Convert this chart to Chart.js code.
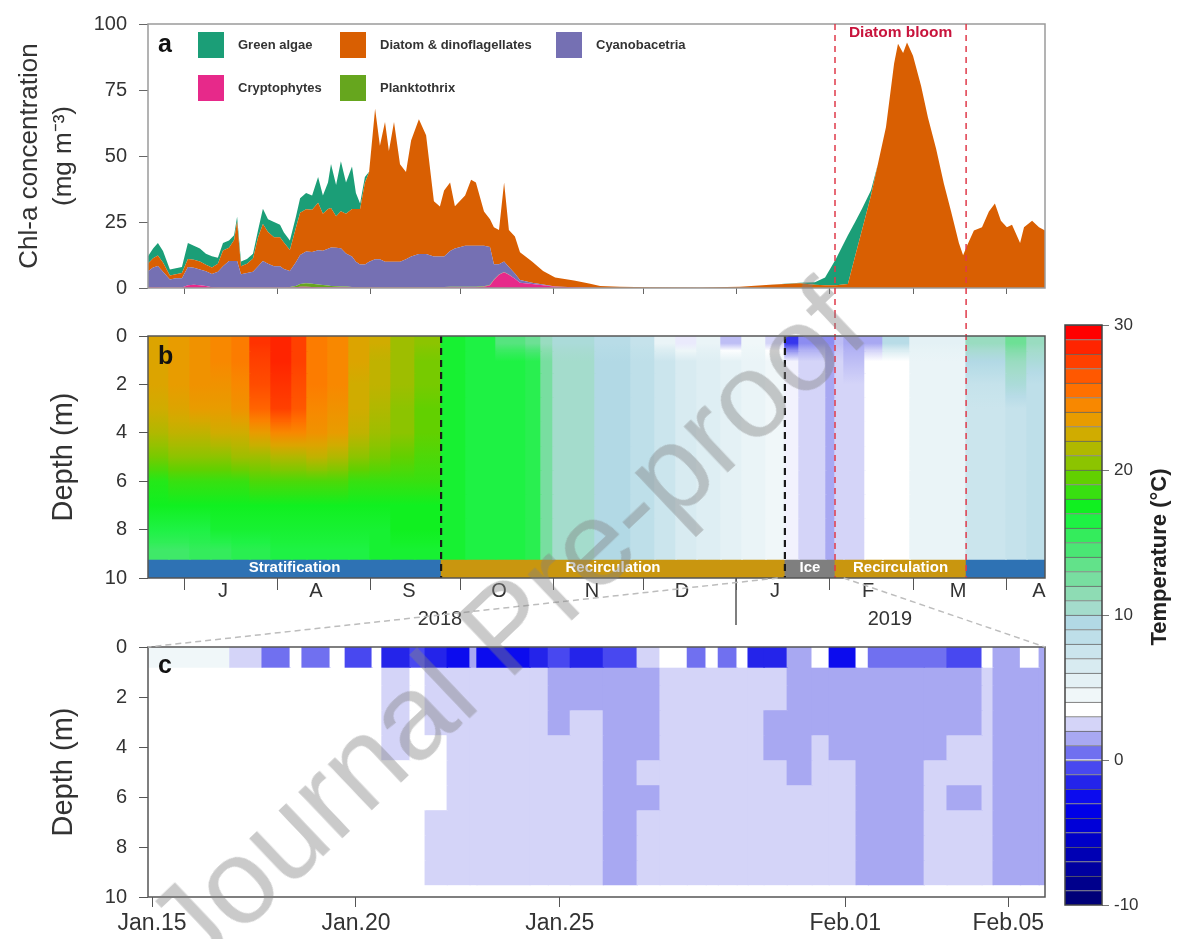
<!DOCTYPE html>
<html>
<head>
<meta charset="utf-8">
<title>Chl-a and water temperature</title>
<script src="https://cdn.jsdelivr.net/npm/chart.js@4.4.1/dist/chart.umd.min.js"></script>
<style>
  html, body { margin: 0; padding: 0; background: #fff; }
  #wrap { position: relative; width: 1180px; height: 939px; overflow: hidden; }
  #wrap canvas { position: absolute; }
  #watermark {
    position: absolute; left: 505px; top: 626px;
    transform: translate(-50%, -50%) rotate(-43.5deg);
    font: 121px Arial, "Liberation Sans", sans-serif;
    color: rgba(128, 128, 128, 0.42); white-space: nowrap; pointer-events: none;
  }
</style>
</head>
<body>
<div id="wrap">
  <canvas id="chlChart" width="1060" height="312" style="left:0;top:0"></canvas>
  <canvas id="tempChart" width="1060" height="318" style="left:0;top:312px"></canvas>
  <canvas id="iceChart" width="1060" height="364" style="left:0;top:575px"></canvas>
  <canvas id="scaleChart" width="140" height="630" style="left:1040px;top:300px"></canvas>
  <div id="watermark">Journal Pre-proof</div>
</div>
<script>
// ---- panel a: chl-a per algal group (mg m-3) ----
// x = day of year counted from 1 Jan 2018 (2019 keeps counting past 365)
const aDays = [
  169, 170.7, 172.3, 174, 176.3, 178.3, 180.3, 182.3, 184.3, 186.3,
  188.3, 190.3, 192.3, 194, 196, 197.7, 198.7, 200, 202, 204,
  205.7, 207.3, 209, 211, 213, 214.3, 216.3, 218.3, 219.7, 221.7,
  223.7, 225.7, 227.3, 229, 230, 231.7, 233.3, 235, 237, 238.3,
  239.7, 241.3, 242.7, 244.7, 246.3, 248, 249.3, 251, 253, 255,
  256.7, 259.3, 261.7, 264.3, 266.3, 267.7, 269.7, 271.3, 274.7, 276.7,
  278.3, 281, 283, 284.3, 286, 287.7, 289.3, 291.3, 293, 297,
  300.7, 304.7, 311, 316, 319.7, 326.3, 336.3, 353, 366.3, 376.3,
  386.3, 391.3, 394.7, 398.3, 402.3, 404.7, 407, 410, 412.3, 415,
  417.7, 419, 420.7, 422, 424, 426.7, 429, 431.7, 434.3, 436.7,
  439.3, 440.7, 442, 444.3, 447, 449.3, 451.3, 453.3, 455.3, 457,
  459.7, 461, 463.7, 466, 468
];
const cryptophytes = [
  0.3, 0.3, 0.3, 0.2, 0.2, 0.2, 0.2, 1, 1.2, 1,
  0.8, 0.3, 0.2, 0.2, 0.2, 0.2, 0.2, 0.2, 0.2, 0.2,
  0.2, 0.2, 0.2, 0.2, 0.2, 0.2, 0.2, 0.3, 0.5, 0.5,
  0.4, 0.3, 0.3, 0.3, 0.3, 0.3, 0.3, 0.3, 0.2, 0.2,
  0.2, 0.2, 0.2, 0.2, 0.2, 0.2, 0.2, 0.2, 0.2, 0.2,
  0.2, 0.2, 0.2, 0.2, 0.2, 0.2, 0.3, 0.3, 0.3, 0.3,
  0.3, 0.5, 1, 3, 5, 6, 5, 3.5, 2, 1.5,
  1, 0.5, 0.3, 0.1, 0, 0, 0, 0, 0, 0,
  0, 0, 0, 0, 0, 0, 0, 0, 0, 0,
  0, 0, 0, 0, 0, 0, 0, 0, 0, 0,
  0, 0, 0, 0, 0, 0, 0, 0, 0, 0,
  0, 0, 0, 0, 0
];
const planktothrix = [
  0, 0, 0, 0, 0, 0, 0, 0, 0, 0,
  0, 0, 0, 0, 0, 0, 0, 0, 0, 0,
  0, 0, 0, 0, 0, 0, 0.2, 0.5, 1, 1.3,
  1.2, 1, 0.8, 0.6, 0.5, 0.4, 0.3, 0.3, 0.2, 0.2,
  0.2, 0.2, 0.2, 0.2, 0.2, 0.2, 0.2, 0.2, 0.2, 0.2,
  0.2, 0.2, 0.2, 0.2, 0.2, 0.2, 0.2, 0.2, 0.2, 0.2,
  0.2, 0.2, 0.2, 0.2, 0.1, 0.1, 0.1, 0, 0, 0,
  0, 0, 0, 0, 0, 0, 0, 0, 0, 0,
  0, 0, 0, 0, 0, 0, 0, 0, 0, 0,
  0, 0, 0, 0, 0, 0, 0, 0, 0, 0,
  0, 0, 0, 0, 0, 0, 0, 0, 0, 0,
  0, 0, 0, 0, 0
];
const cyanobacteria = [
  6, 7.5, 8, 6, 3, 3.5, 3.5, 7, 6.5, 6,
  5.5, 5, 6, 8, 10, 10, 10, 5, 5.5, 6,
  8, 10, 9, 8, 8, 7, 6, 9, 11, 12,
  12, 13, 13, 14, 14.5, 14.5, 14.5, 12.5, 11.5, 9.5,
  8.5, 8.5, 9.5, 10.5, 10.5, 9.5, 9.5, 9.5, 9.5, 10.5,
  11.5, 12.5, 12.5, 11.5, 11.5, 11.5, 13.5, 14.5, 15.5, 15.5,
  15.5, 15.3, 14.3, 5.8, 3.9, 3.9, 2.9, 2, 1, 0.5,
  0.3, 0.1, 0, 0, 0, 0, 0, 0, 0, 0,
  0, 0, 0, 0, 0, 0, 0, 0, 0, 0,
  0, 0, 0, 0, 0, 0, 0, 0, 0, 0,
  0, 0, 0, 0, 0, 0, 0, 0, 0, 0,
  0, 0, 0, 0, 0
];
const diatoms = [
  3, 3.5, 4, 3.5, 1.5, 1.5, 2, 3, 3, 3,
  2.5, 2.5, 3, 6, 5, 8, 15, 3, 3.5, 5,
  11, 14, 12, 11, 11, 10, 8, 13, 16, 16,
  16, 18, 14, 15, 15, 12, 14, 15, 18, 20,
  21, 31, 34, 57, 43, 53, 42, 53, 37, 33,
  44, 51, 45, 21, 19, 25, 26, 16, 19, 25,
  24, 13, 10.5, 14, 13, 30, 14, 14, 10.5, 8,
  5.1, 3.4, 2.5, 1.6, 0.8, 0.5, 0.3, 0.2, 0.5, 1.2,
  1.8, 1.2, 1, 1, 1.5, 12, 22, 35, 47, 61,
  85, 92.5, 89, 93, 88, 76.5, 64.5, 52.7, 39.5, 29,
  17, 12.4, 16, 21.8, 23, 29, 32, 25.5, 23, 24,
  17, 23, 25.5, 23, 21.8
];
const greenAlgae = [
  2.7, 3.7, 4.7, 4.3, 2.3, 2.3, 2.3, 6, 5.3, 5,
  4.2, 4.2, 2.3, 2.8, 2.8, 1.8, 1.8, 1.8, 1.8, 1.8,
  2.8, 5.8, 4.8, 5.8, 4.8, 3.8, 3.6, 4.2, 5.5, 6.2,
  5.4, 9.7, 6.9, 10.1, 16.7, 11.8, 18.9, 11.9, 16.1, 6.1,
  2.1, 2.1, 0.1, 0, 0, 0, 0, 0, 0, 0,
  0, 0, 0, 0, 0, 0, 0, 0, 0, 0,
  0, 0, 0, 0, 0, 0, 0, 0, 0, 0,
  0, 0, 0, 0, 0, 0, 0, 0, 0, 0,
  0.2, 1, 3, 10, 18.5, 13, 8, 2, 0, 0,
  0, 0, 0, 0, 0, 0, 0, 0, 0, 0,
  0, 0, 0, 0, 0, 0, 0, 0, 0, 0,
  0, 0, 0, 0, 0
];

// ---- panel b: water temperature (deg C), columns between bEdges, rows = depth layers ----
const bLayerTop    = [0, 0.6, 1.5, 2.5, 3.5, 4.5, 5.5, 6.5, 7.5, 8.5];
const bLayerBottom = [0.6, 1.5, 2.5, 3.5, 4.5, 5.5, 6.5, 7.5, 8.5, 9.2];
const bEdges = [
  169, 176, 183, 190, 197, 203, 210, 217, 222, 229,
  236, 243, 250, 258, 266.7, 275, 285, 295, 300, 304,
  318, 330, 338, 345, 352, 360, 367, 375, 381.3, 386,
  395, 398, 401, 408, 414, 423, 441.7, 455, 462, 468
];
const bTemps = [
  [23, 23, 23, 22.5, 21.5, 20, 18, 17.5, 16.5, 15],
  [23.5, 23.5, 23.5, 23, 22, 20.5, 18.5, 17.5, 16.5, 15],
  [24, 24, 24, 23.5, 22, 20.5, 18.5, 17.5, 16.5, 15.5],
  [24.5, 24.5, 24, 23.5, 22.5, 20.5, 18.5, 17.5, 17, 15.5],
  [25, 25, 24.5, 24, 22.5, 21, 18.5, 17.5, 17, 16],
  [28, 27.5, 27, 26, 23.5, 21, 19, 17.5, 17, 16],
  [28.5, 28.5, 28, 27.5, 24.5, 21.5, 19, 17.5, 17, 16.5],
  [27.5, 27.5, 27, 26.5, 24.5, 21.5, 19, 17.5, 17, 16.5],
  [25, 25, 25, 24.5, 24, 22, 19, 17.5, 17, 16.5],
  [24.5, 24.5, 24.5, 24, 23.5, 21.5, 19, 17.5, 17, 16.5],
  [23, 23, 22.5, 22.5, 22, 20.5, 18.5, 17.5, 17, 16.5],
  [22.5, 22, 22, 21.5, 21, 20, 18.5, 17.5, 17, 17],
  [21, 21, 21, 20.5, 20.5, 19.5, 18.5, 17.5, 17.5, 17],
  [20.5, 20, 20, 19.5, 19.5, 19, 18.5, 17.5, 17.5, 17],
  [17, 17, 17, 17, 17, 17, 17, 17, 17, 17],
  [16.5, 16.5, 16.5, 16.5, 16.5, 16.5, 16.5, 16.5, 16.5, 16.5],
  [14, 16.5, 16.5, 16.5, 16.5, 16.5, 16.5, 16.5, 16.5, 16.5],
  [13, 16, 16, 16, 16, 16, 16, 16, 16, 16],
  [11, 12.5, 12.5, 12.5, 12.5, 12.5, 12.5, 12.5, 12.5, 12.5],
  [10, 10.5, 10.5, 10.5, 10.5, 10.5, 10.5, 10.5, 10.5, 10.5],
  [9, 9.5, 9.5, 9.5, 9.5, 9.5, 9.5, 9.5, 9.5, 9.5],
  [8, 8.5, 8.5, 8.5, 8.5, 8.5, 8.5, 8.5, 8.5, 8.5],
  [5, 7.5, 7.5, 7.5, 7.5, 7.5, 7.5, 7.5, 7.5, 7.5],
  [3, 6.5, 6.5, 6.5, 6.5, 6.5, 6.5, 6.5, 6.5, 6.5],
  [5, 6, 6, 6, 6, 6, 6, 6, 6, 6],
  [2, 5.5, 5.5, 5.5, 5.5, 5.5, 5.5, 5.5, 5.5, 5.5],
  [4.5, 5, 5, 5, 5, 5, 5, 5, 5, 5],
  [2.5, 4.5, 4.5, 4.5, 4.5, 4.5, 4.5, 4.5, 4.5, 4.5],
  [-1, 3.2, 3.2, 3.2, 3.2, 3.2, 3.2, 3.2, 3.2, 3.2],
  [1, 2.5, 2.5, 2.5, 2.5, 2.5, 2.5, 2.5, 2.5, 2.5],
  [1, 1.5, 1.5, 1.5, 1.5, 1.5, 1.5, 1.5, 1.5, 1.5],
  [2, 2.5, 2.5, 2.5, 2.5, 2.5, 2.5, 2.5, 2.5, 2.5],
  [1.5, 2, 2.5, 2.5, 2.5, 2.5, 2.5, 2.5, 2.5, 2.5],
  [1.5, 3.5, 3.5, 3.5, 3.5, 3.5, 3.5, 3.5, 3.5, 3.5],
  [9, 3.5, 3.5, 3.5, 3.5, 3.5, 3.5, 3.5, 3.5, 3.5],
  [5.5, 5, 5, 5, 5, 5, 5, 5, 5, 5],
  [11, 9.5, 8, 7.5, 7.5, 7.5, 7.5, 7.5, 7.5, 7.5],
  [13, 11, 10, 8, 8, 8, 8, 8, 8, 8],
  [11, 10, 8.5, 8.5, 8.5, 8.5, 8.5, 8.5, 8.5, 8.5]
];
const phaseNames  = ['Stratification', 'Recirculation', 'Ice', 'Recirculation', ''];
const phaseEdges  = [169, 266.7, 381.3, 398, 441.7, 468];
const phaseColors = ['#2e72b4', '#c9960f', '#7f7f7f', '#c9960f', '#2e72b4'];

// ---- panel c: ice period, x = days since 15 Jan 2019 ----
const cLayerTop    = [0, 0.8, 1.5, 2.5, 3.5, 4.5, 5.5, 6.5, 7.5, 8.5];
const cLayerBottom = [0.8, 1.5, 2.5, 3.5, 4.5, 5.5, 6.5, 7.5, 8.5, 9.5];
const cEdges = [
  -0.1, 1.91, 2.70, 3.39, 3.68, 4.37, 4.74, 5.40, 5.64, 6.33,
  6.70, 7.24, 7.80, 7.97, 9.27, 9.72, 10.26, 11.07, 11.90, 12.46,
  13.13, 13.59, 13.89, 14.35, 14.62, 15.01, 15.58, 16.19, 16.61, 17.27,
  17.57, 18.94, 19.50, 20.36, 20.63, 21.30, 21.76, 21.9
];
const cTemps = [
  [4.5, 3.5, 3.5, 3.5, 3.5, 3.5, 3.5, 3.5, 3.5, 3.5],
  [2, 3.5, 3.5, 3.5, 3.5, 3.5, 3.5, 3.5, 3.5, 3.5],
  [0.5, 3.5, 3.5, 3.5, 3.5, 3.5, 3.5, 3.5, 3.5, 3.5],
  [3.5, 3.5, 3.5, 3.5, 3.5, 3.5, 3.5, 3.5, 3.5, 3.5],
  [0, 3.5, 3.5, 3.5, 3.5, 3.5, 3.5, 3.5, 3.5, 3.5],
  [3, 3.5, 3.5, 3.5, 3.5, 3.5, 3.5, 3.5, 3.5, 3.5],
  [-0.5, 3.5, 3.5, 3.5, 3.5, 3.5, 3.5, 3.5, 3.5, 3.5],
  [3.5, 3.5, 3.5, 3.5, 3.5, 3.5, 3.5, 3.5, 3.5, 3.5],
  [-2, 2.5, 2.5, 2.5, 2.5, 3.5, 3.5, 3.5, 3.5, 3.5],
  [-1, 3.5, 3.5, 3.5, 3.5, 3.5, 3.5, 3.5, 3.5, 3.5],
  [-2, 2.5, 2.5, 2.5, 3.5, 3.5, 3.5, 2.5, 2.5, 2.5],
  [-2.5, 2.5, 2.5, 2.5, 2.5, 2.5, 2.5, 2.5, 2.5, 2.5],
  [1, 2.5, 2.5, 2.5, 2.5, 2.5, 2.5, 2.5, 2.5, 2.5],
  [-2.5, 2.5, 2.5, 2.5, 2.5, 2.5, 2.5, 2.5, 2.5, 2.5],
  [-1.5, 2.5, 2.5, 2.5, 2.5, 2.5, 2.5, 2.5, 2.5, 2.5],
  [-1, 1.5, 1.5, 1.5, 2.5, 2.5, 2.5, 2.5, 2.5, 2.5],
  [-2, 1.5, 1.5, 2.5, 2.5, 2.5, 2.5, 2.5, 2.5, 2.5],
  [-1, 1.5, 1.5, 1.5, 1.5, 1.5, 1.5, 1.5, 1.5, 1.5],
  [2.5, 1.5, 1.5, 1.5, 1.5, 2.5, 1.5, 2.5, 2.5, 2.5],
  [3, 2.5, 2.5, 2.5, 2.5, 2.5, 2.5, 2.5, 2.5, 2.5],
  [0.5, 2.5, 2.5, 2.5, 2.5, 2.5, 2.5, 2.5, 2.5, 2.5],
  [3.5, 2.5, 2.5, 2.5, 2.5, 2.5, 2.5, 2.5, 2.5, 2.5],
  [0, 2.5, 2.5, 2.5, 2.5, 2.5, 2.5, 2.5, 2.5, 2.5],
  [3.5, 2.5, 2.5, 2.5, 2.5, 2.5, 2.5, 2.5, 2.5, 2.5],
  [-1.5, 2.5, 2.5, 2.5, 2.5, 2.5, 2.5, 2.5, 2.5, 2.5],
  [-1.5, 2.5, 2.5, 1.5, 1.5, 2.5, 2.5, 2.5, 2.5, 2.5],
  [1.5, 1.5, 1.5, 1.5, 1.5, 1.5, 2.5, 2.5, 2.5, 2.5],
  [3.5, 1.5, 1.5, 1.5, 2.5, 2.5, 2.5, 2.5, 2.5, 2.5],
  [-2.5, 1.5, 1.5, 1.5, 1.5, 2.5, 2.5, 2.5, 2.5, 2.5],
  [3.5, 1.5, 1.5, 1.5, 1.5, 1.5, 1.5, 1.5, 1.5, 1.5],
  [0.5, 1.5, 1.5, 1.5, 1.5, 1.5, 1.5, 1.5, 1.5, 1.5],
  [0.5, 1.5, 1.5, 1.5, 1.5, 2.5, 2.5, 2.5, 2.5, 2.5],
  [-1, 1.5, 1.5, 1.5, 2.5, 2.5, 1.5, 2.5, 2.5, 2.5],
  [3.5, 2.5, 2.5, 2.5, 2.5, 2.5, 2.5, 2.5, 2.5, 2.5],
  [1, 1.5, 1.5, 1.5, 1.5, 1.5, 1.5, 1.5, 1.5, 1.5],
  [3.5, 1.5, 1.5, 1.5, 1.5, 1.5, 1.5, 1.5, 1.5, 1.5],
  [1, 1.5, 1.5, 1.5, 1.5, 1.5, 1.5, 1.5, 1.5, 1.5]
];

// ---- axis labels and markers ----
const monthStarts  = [181, 212, 243, 273, 304, 334, 365, 396, 424, 455];
const monthMid     = [194, 225, 256, 286, 317, 347, 378, 409, 439, 466];
const monthLetters = ['J', 'A', 'S', 'O', 'N', 'D', 'J', 'F', 'M', 'A'];
const yearMid      = [266.3, 416.3];
const yearLabels   = ['2018', '2019'];
const yearBreak    = 365;
const cTickDays    = [0, 5, 10, 17, 21];
const cTickLabels  = ['Jan.15', 'Jan.20', 'Jan.25', 'Feb.01', 'Feb.05'];
const tempTicks    = [-10, 0, 10, 20, 30];
const mixEnd = 266.7, iceOn = 381.3, bloomStart = 398, bloomEnd = 441.7;
const zoomStart = 378.9, zoomEnd = 400.9;   // 15 Jan - 6 Feb 2019 on the b axis

// colour bar, one entry per 1 degree from -10 to 30
const bandColors = [
  '#000078', '#00008c', '#0000a0', '#0000b4', '#0000c8', '#0000d8', '#0000e8', '#0c0cee', '#2424ea', '#4848f0',
  '#7070f0', '#a8a8f2', '#d4d4f8', '#ffffff', '#f0f7f9', '#e4f1f5', '#d8ebf1', '#cbe5ed', '#bedfe9', '#b2d9e5',
  '#a4dccc', '#8edcb4', '#78dea0', '#62e28a', '#4ae674', '#34ec5c', '#1ef244', '#10f020', '#38e010', '#62d000',
  '#8cc400', '#b0b800', '#d0ac00', '#e89c00', '#f88800', '#ff7000', '#ff5800', '#ff4000', '#ff2400', '#ff0000'
];
const bandLow = -10;

Chart.defaults.font.family = 'Arial, "Liberation Sans", Helvetica, sans-serif';
Chart.defaults.color = '#333';
Chart.defaults.animation = false;
const FONT = Chart.defaults.font.family;

const bandRgb = bandColors.map(h => {
  const n = parseInt(h.slice(1), 16);
  return [(n >> 16) & 255, (n >> 8) & 255, n & 255];
});

function tempColor(t) {
  const i = Math.max(0, Math.min(bandColors.length - 1, Math.floor(t - bandLow)));
  return bandColors[i];
}

// continuous version (band centres blended), used for the smooth profile in b
function tempColorSmooth(t) {
  const f = Math.max(0, Math.min(bandRgb.length - 1, t - bandLow - 0.5));
  const i = Math.floor(f), w = f - i;
  const p = bandRgb[i], q = bandRgb[Math.min(i + 1, bandRgb.length - 1)];
  const mix = j => Math.round(p[j] + (q[j] - p[j]) * w);
  return 'rgb(' + mix(0) + ',' + mix(1) + ',' + mix(2) + ')';
}

function layerGradient(c, temps, tops, bottoms, k) {
  const col = temps[c.dataIndex];
  if (!col) return tempColor(0);
  const t = col[k];
  const y = c.chart.scales.y;
  const y0 = y ? y.getPixelForValue(tops[k]) : NaN;
  const y1 = y ? y.getPixelForValue(bottoms[k]) : NaN;
  if (!Number.isFinite(y0) || !Number.isFinite(y1) || y1 === y0) return tempColorSmooth(t);
  const up = k > 0 ? (t + col[k - 1]) / 2 : t;
  const down = k < col.length - 1 ? (t + col[k + 1]) / 2 : t;
  const g = c.chart.ctx.createLinearGradient(0, y0, 0, y1);
  g.addColorStop(0, tempColorSmooth(up));
  g.addColorStop(0.5, tempColorSmooth(t));
  g.addColorStop(1, tempColorSmooth(down));
  return g;
}

function heatLayers(edges, temps, tops, bottoms, pxPerM, smooth) {
  return tops.map((top, k) => ({
    data: temps.map((col, i) => ({ x: [edges[i], edges[i + 1]], y: (top + bottoms[k]) / 2 })),
    backgroundColor: smooth
      ? (c => layerGradient(c, temps, tops, bottoms, k))
      : temps.map(col => tempColor(col[k])),
    barThickness: (bottoms[k] - top) * pxPerM,
    inflateAmount: 0.7,
    borderWidth: 0,
    stack: 'grid'
  }));
}

const fixSize = size => scale => {
  if (scale.isHorizontal()) scale.height = size; else scale.width = size;
};

function dashed(ctx, x, y0, y1, color, width, dash) {
  ctx.save();
  ctx.strokeStyle = color;
  ctx.lineWidth = width;
  ctx.setLineDash(dash);
  ctx.beginPath();
  ctx.moveTo(x, y0);
  ctx.lineTo(x, y1);
  ctx.stroke();
  ctx.restore();
}

function frame(chart, color) {
  const { ctx, chartArea: a } = chart;
  ctx.save();
  ctx.strokeStyle = color;
  ctx.lineWidth = 1.5;
  ctx.strokeRect(a.left, a.top, a.right - a.left, a.bottom - a.top);
  ctx.restore();
}

function panelLetter(chart, txt, dy) {
  const { ctx, chartArea: a } = chart;
  ctx.save();
  ctx.font = 'bold 25px ' + FONT;
  ctx.fillStyle = '#111';
  ctx.fillText(txt, a.left + 10, a.top + dy);
  ctx.restore();
}

const depthAxis = title => ({
  type: 'linear', min: 0, max: 10, reverse: true, stacked: true, offset: false,
  ticks: { stepSize: 2, font: { size: 20 }, padding: 12, color: '#333' },
  grid: { drawOnChartArea: false, tickLength: 9, color: '#555', offset: false },
  border: { display: false },
  title: { display: true, text: title, font: { size: 29 }, padding: { top: 47 }, color: '#333' },
  afterFit: fixSize(148)
});

// ---------------- panel a ----------------
const aSeries = [
  { label: 'Cryptophytes', values: cryptophytes, color: '#e7298a' },
  { label: 'Planktothrix', values: planktothrix, color: '#66a61e' },
  { label: 'Cyanobacetria', values: cyanobacteria, color: '#7570b3' },
  { label: 'Diatom & dinoflagellates', values: diatoms, color: '#d95f02' },
  { label: 'Green algae', values: greenAlgae, color: '#1b9e77' }
];

const chlDeco = {
  id: 'chlDeco',
  afterDatasetsDraw(chart) {
    const { ctx, chartArea: a, scales: { x } } = chart;
    frame(chart, '#9a9a9a');
    [bloomStart, bloomEnd].forEach(d =>
      dashed(ctx, x.getPixelForValue(d), a.top, chart.height, '#e03a4a', 1.5, [6, 5]));
    ctx.save();
    ctx.font = 'bold 15.5px ' + FONT;
    ctx.fillStyle = '#c8143c';
    ctx.textAlign = 'center';
    ctx.textBaseline = 'middle';
    ctx.fillText('Diatom bloom', x.getPixelForValue((bloomStart + bloomEnd) / 2), a.top + 9);
    // legend, laid out as in the figure
    const order = [4, 3, 2, 0, 1];
    const slots = [[50, 8], [192, 8], [408, 8], [50, 51], [192, 51]];
    ctx.font = 'bold 13px ' + FONT;
    ctx.textAlign = 'left';
    order.forEach((di, k) => {
      const ds = chart.data.datasets[di];
      const bx = a.left + slots[k][0], by = a.top + slots[k][1];
      ctx.fillStyle = ds.backgroundColor;
      ctx.fillRect(bx, by, 26, 26);
      ctx.fillStyle = '#333';
      ctx.fillText(ds.label, bx + 40, by + 13);
    });
    ctx.restore();
    panelLetter(chart, 'a', 28);
  }
};

const chartA = new Chart(document.getElementById('chlChart'), {
  type: 'line',
  data: {
    datasets: aSeries.map((s, i) => ({
      label: s.label,
      data: aDays.map((d, j) => ({ x: d, y: s.values[j] })),
      backgroundColor: s.color,
      borderColor: s.color,
      borderWidth: 0,
      pointRadius: 0,
      tension: 0,
      fill: i === 0 ? 'origin' : '-1'
    }))
  },
  options: {
    responsive: false,
    layout: { padding: { top: 17, right: 15, left: 0, bottom: 0 } },
    plugins: { legend: { display: false }, tooltip: { enabled: false } },
    scales: {
      x: {
        type: 'linear', min: 169, max: 468,
        afterBuildTicks: s => { s.ticks = monthStarts.map(v => ({ value: v })); },
        ticks: { display: false },
        grid: { drawOnChartArea: false, tickLength: 6, color: '#666' },
        border: { display: false },
        afterFit: fixSize(14)
      },
      y: {
        stacked: true, min: 0, max: 100,
        ticks: { stepSize: 25, font: { size: 20 }, padding: 12, color: '#333' },
        grid: { drawOnChartArea: false, tickLength: 9, color: '#666' },
        border: { display: false },
        title: {
          display: true, text: ['Chl-a concentration', '(mg m\u207B\u00B3)'],
          font: { size: 26, lineHeight: 1.3 }, padding: { top: 13 }, color: '#333'
        },
        afterFit: fixSize(148)
      }
    }
  },
  plugins: [chlDeco]
});

// ---------------- panel b ----------------
const bPxPerM = 253 / 10;
const tempDeco = {
  id: 'tempDeco',
  afterDatasetsDraw(chart) {
    const { ctx, chartArea: a, scales: { x } } = chart;
    const meta = chart.getDatasetMeta(chart.data.datasets.length - 1);
    ctx.save();
    ctx.font = 'bold 15px ' + FONT;
    ctx.fillStyle = '#fff';
    ctx.textAlign = 'center';
    ctx.textBaseline = 'middle';
    meta.data.forEach((bar, i) => {
      if (phaseNames[i]) ctx.fillText(phaseNames[i], (bar.x + bar.base) / 2, bar.y);
    });
    ctx.restore();
    [mixEnd, iceOn].forEach(d => dashed(ctx, x.getPixelForValue(d), a.top, a.bottom, '#1a1a1a', 2.2, [7, 5]));
    [bloomStart, bloomEnd].forEach(d => dashed(ctx, x.getPixelForValue(d), 0, a.bottom, '#e03a4a', 1.5, [6, 5]));
    frame(chart, '#555');
    const xb = x.getPixelForValue(yearBreak);
    ctx.save();
    ctx.strokeStyle = '#555';
    ctx.lineWidth = 1.5;
    ctx.beginPath();
    ctx.moveTo(xb, a.bottom);
    ctx.lineTo(xb, a.bottom + 47);
    ctx.stroke();
    ctx.restore();
    panelLetter(chart, 'b', 28);
  }
};

const chartB = new Chart(document.getElementById('tempChart'), {
  type: 'bar',
  data: {
    datasets: [
      ...heatLayers(bEdges, bTemps, bLayerTop, bLayerBottom, bPxPerM, true),
      {
        data: phaseNames.map((n, i) => ({ x: [phaseEdges[i], phaseEdges[i + 1]], y: 9.6 })),
        backgroundColor: phaseColors,
        barThickness: 0.8 * bPxPerM,
        borderWidth: 0,
        stack: 'grid'
      }
    ]
  },
  options: {
    indexAxis: 'y',
    responsive: false,
    layout: { padding: { top: 13, right: 15, left: 0, bottom: 0 } },
    plugins: { legend: { display: false }, tooltip: { enabled: false } },
    scales: {
      x: {
        type: 'linear', min: 169, max: 468, stacked: false, position: 'bottom',
        afterBuildTicks: s => {
          s.ticks = monthStarts.concat(monthMid).sort((p, q) => p - q).map(v => ({ value: v }));
        },
        ticks: {
          autoSkip: false, maxRotation: 0, padding: -11, font: { size: 20 }, color: '#333',
          callback: v => { const i = monthMid.indexOf(v); return i < 0 ? '' : monthLetters[i]; }
        },
        grid: {
          drawOnChartArea: false, tickLength: 12,
          color: ctx => monthStarts.includes(ctx.tick && ctx.tick.value) ? '#555' : 'rgba(0,0,0,0)'
        },
        border: { display: false },
        afterFit: fixSize(22)
      },
      xYear: {
        type: 'linear', min: 169, max: 468, position: 'bottom',
        afterBuildTicks: s => { s.ticks = yearMid.map(v => ({ value: v })); },
        ticks: {
          autoSkip: false, maxRotation: 0, padding: 7, font: { size: 20 }, color: '#333',
          callback: v => yearLabels[yearMid.indexOf(v)]
        },
        grid: { display: false, drawTicks: false },
        border: { display: false },
        afterFit: fixSize(30)
      },
      y: depthAxis('Depth (m)')
    }
  },
  plugins: [tempDeco]
});

// ---------------- panel c ----------------
const cPxPerM = 250 / 10;
const bCanvas = document.getElementById('tempChart');
const cCanvas = document.getElementById('iceChart');
const iceDeco = {
  id: 'iceDeco',
  afterDatasetsDraw(chart) {
    const { ctx, chartArea: a } = chart;
    frame(chart, '#555');
    const off = bCanvas.offsetTop - cCanvas.offsetTop;
    const yb = chartB.chartArea.bottom + off;
    const bx = chartB.scales.x;
    ctx.save();
    ctx.strokeStyle = '#bdbdbd';
    ctx.lineWidth = 1.5;
    ctx.setLineDash([6, 4]);
    ctx.beginPath();
    ctx.moveTo(bx.getPixelForValue(zoomStart), yb);
    ctx.lineTo(a.left, a.top);
    ctx.moveTo(bx.getPixelForValue(zoomEnd), yb);
    ctx.lineTo(a.right, a.top);
    ctx.stroke();
    ctx.restore();
    panelLetter(chart, 'c', 26);
  }
};

new Chart(cCanvas, {
  type: 'bar',
  data: { datasets: heatLayers(cEdges, cTemps, cLayerTop, cLayerBottom, cPxPerM, false) },
  options: {
    indexAxis: 'y',
    responsive: false,
    layout: { padding: { top: 72, right: 15, left: 0, bottom: 0 } },
    plugins: { legend: { display: false }, tooltip: { enabled: false } },
    scales: {
      x: {
        type: 'linear', min: -0.1, max: 21.9, stacked: false,
        afterBuildTicks: s => { s.ticks = cTickDays.map(v => ({ value: v })); },
        ticks: {
          autoSkip: false, maxRotation: 0, padding: 3, font: { size: 23 }, color: '#333',
          callback: v => cTickLabels[cTickDays.indexOf(v)]
        },
        grid: { drawOnChartArea: false, tickLength: 10, color: '#555' },
        border: { display: false },
        afterFit: fixSize(42)
      },
      y: depthAxis('Depth (m)')
    }
  },
  plugins: [iceDeco]
});

// ---------------- colour bar ----------------
const scaleDeco = {
  id: 'scaleDeco',
  afterDatasetsDraw(chart) {
    const { ctx, chartArea: a, scales: { y } } = chart;
    frame(chart, '#444');
    ctx.save();
    ctx.translate(a.right + 58, y.getPixelForValue(14));
    ctx.rotate(-Math.PI / 2);
    ctx.font = 'bold 22px ' + FONT;
    ctx.fillStyle = '#222';
    ctx.textAlign = 'center';
    ctx.textBaseline = 'middle';
    ctx.fillText('Temperature (\u00B0C)', 0, 0);
    ctx.restore();
  }
};

new Chart(document.getElementById('scaleChart'), {
  type: 'bar',
  data: {
    labels: ['T'],
    datasets: bandColors.map((c, i) => ({
      data: [[bandLow + i, bandLow + i + 1]],
      backgroundColor: c,
      borderColor: 'rgba(50,50,50,0.75)',
      borderWidth: { top: 1, bottom: 0, left: 0, right: 0 },
      borderSkipped: false,
      barPercentage: 1,
      categoryPercentage: 1,
      stack: 'bar'
    }))
  },
  options: {
    responsive: false,
    layout: { padding: { top: 25, bottom: 25, left: 25, right: 0 } },
    plugins: { legend: { display: false }, tooltip: { enabled: false } },
    scales: {
      x: { display: false, stacked: true },
      y: {
        position: 'right', min: -10, max: 30, stacked: false,
        afterBuildTicks: s => { s.ticks = tempTicks.map(v => ({ value: v })); },
        ticks: { font: { size: 17 }, padding: 5, color: '#333' },
        grid: { drawOnChartArea: false, tickLength: 7, color: '#777' },
        border: { display: false },
        afterFit: fixSize(78)
      }
    }
  },
  plugins: [scaleDeco]
});
</script>
</body>
</html>
